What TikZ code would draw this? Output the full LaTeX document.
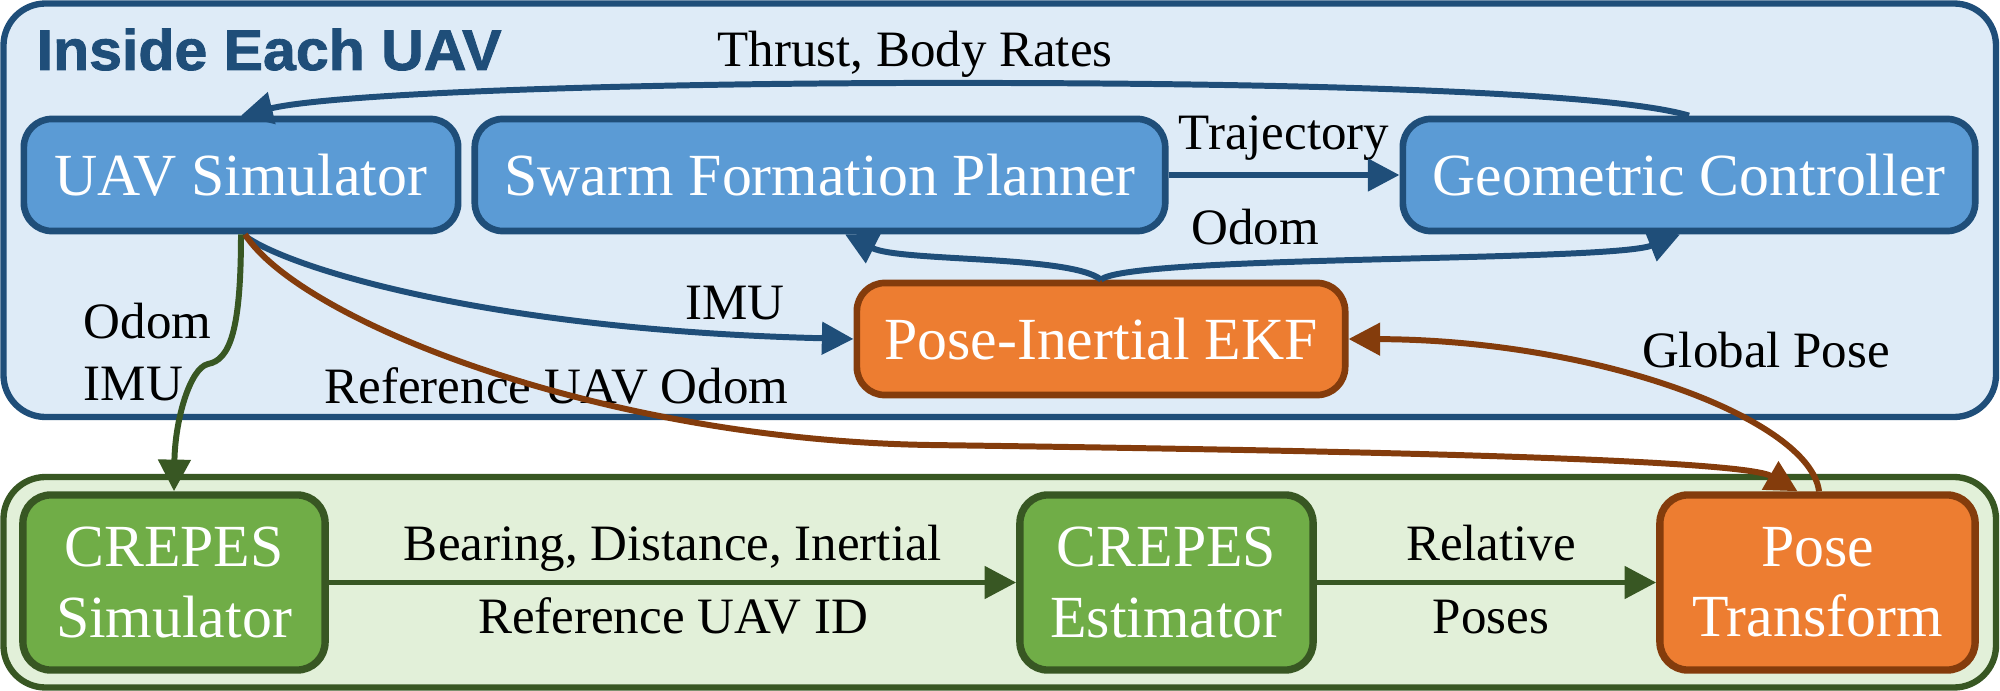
\documentclass[tikz,border=0pt]{standalone}
\usepackage{fontspec}
\setmainfont{Liberation Serif}
\newfontfamily\headfont{Liberation Sans}[BoldFeatures={FakeBold=1.5,FakeStretch=1.03}]
\usetikzlibrary{arrows.meta,calc}
\definecolor{bdark}{HTML}{1F4E79}
\definecolor{bfill}{HTML}{5B9BD5}
\definecolor{blight}{HTML}{DEEBF7}
\definecolor{odark}{HTML}{843C0C}
\definecolor{ofill}{HTML}{ED7D31}
\definecolor{gdark}{HTML}{385723}
\definecolor{gfill}{HTML}{70AD47}
\definecolor{glight}{HTML}{E2F0D9}
\tikzset{
  blk/.style={draw, rounded corners=0.28cm, line width=1.9pt, text=white,
    font=\fontsize{17}{20}\selectfont, align=center, inner sep=0pt},
  bluebox/.style={blk, fill=bfill, draw=bdark, minimum height=1.12cm},
  orangebox/.style={blk, fill=ofill, draw=odark},
  greenbox/.style={blk, fill=gfill, draw=gdark, line width=2.1pt, minimum height=1.75cm},
  lbl/.style={font=\fontsize{14.5}{17}\selectfont, inner sep=0pt, anchor=base},
  arr/.style={line width=1.7pt, -{Triangle[length=9pt,width=9pt]}},
  barr/.style={arr, draw=bdark},
  oarr/.style={arr, draw=odark},
  garr/.style={arr, draw=gdark},
}
\begin{document}
\begin{tikzpicture}[x=0.01cm,y=-0.01cm]
\useasboundingbox (0,0) rectangle (2000,691);
% outer groups
\draw[line width=1.8pt, draw=bdark, fill=blight, rounded corners=0.42cm] (3.5,3.5) rectangle (1996,417);
\draw[line width=1.8pt, draw=gdark, fill=glight, rounded corners=0.42cm] (3.5,477) rectangle (1996,687.5);
\node[anchor=base west, inner sep=0pt, text=bdark, font=\headfont\bfseries\fontsize{16.3}{18}\selectfont] (title) at (36,70) {Inside Each UAV};

% nodes
\node[bluebox, minimum width=4.34cm] (usim) at (241,175) {UAV Simulator};
\node[bluebox, minimum width=6.90cm] (swarm) at (820,175) {Swarm Formation Planner};
\node[bluebox, minimum width=5.72cm] (geo) at (1689,175) {Geometric Controller};
\node[orangebox, minimum width=4.88cm, minimum height=1.12cm] (ekf) at (1101,339) {Pose-Inertial EKF};
\node[greenbox, minimum width=3.02cm] (csim) at (174,582.5) {CREPES\\Simulator};
\node[greenbox, minimum width=2.93cm] (cest) at (1166.5,582.5) {CREPES\\Estimator};
\node[orangebox, line width=2.1pt, minimum width=3.15cm, minimum height=1.75cm] (ptf) at (1817.5,582.5) {Pose\\Transform};

% labels
\node[lbl] (lthrust) at (915,67) {Thrust, Body Rates};
\node[lbl] (ltraj) at (1284,150) {Trajectory};
\node[lbl] (lodom) at (1255,245) {Odom};
\node[lbl] (limu) at (735,320) {IMU};
\node[lbl, anchor=base west] (lodom2) at (83,338) {Odom};
\node[lbl, anchor=base west] (limu2) at (83,400) {IMU};
\node[lbl, anchor=base west] (lref) at (324,403) {Reference UAV Odom};
\node[lbl] (lglob) at (1766,367) {Global Pose};
\node[lbl] (lbear) at (673,560) {Bearing, Distance, Inertial};
\node[lbl] (lrefid) at (673,633) {Reference UAV ID};
\node[lbl] (lrel) at (1491,560) {Relative};
\node[lbl] (lposes) at (1491,633) {Poses};

% connectors
\draw[barr] (geo.north) .. controls (1610,92) and (1300,82) .. (900,83)
  .. controls (600,84) and (330,94) .. (usim.north);
\draw[barr] (swarm.east) -- (geo.west);
\draw[barr] (ekf.north) .. controls (1070,255) and (900,262) .. ([xshift=0.25cm]swarm.south);
\draw[barr] (ekf.north) .. controls (1130,255) and (1610,262) .. ([xshift=-0.09cm]geo.south);
\draw[barr] ([xshift=0.02cm]usim.south) .. controls (280,265) and (480,330) .. (ekf.west);
\coordinate (gmid) at (208,364);
\draw[garr] (usim.south) .. controls (241,330) and (230,360) .. (gmid)
  .. controls (190,368) and (175,420) .. (csim.north);
\draw[oarr] ([xshift=0.04cm]usim.south) .. controls (300,320) and (600,440) .. (930,445)
  .. controls (1300,450) and (1740,458) .. ([xshift=-0.2cm]ptf.north);
\draw[oarr] ([xshift=0.015cm]ptf.north) .. controls (1810,420) and (1600,340) .. (ekf.east);
\draw[garr] (csim.east) -- (cest.west);
\draw[garr] (cest.east) -- (ptf.west);
\end{tikzpicture}
\end{document}
